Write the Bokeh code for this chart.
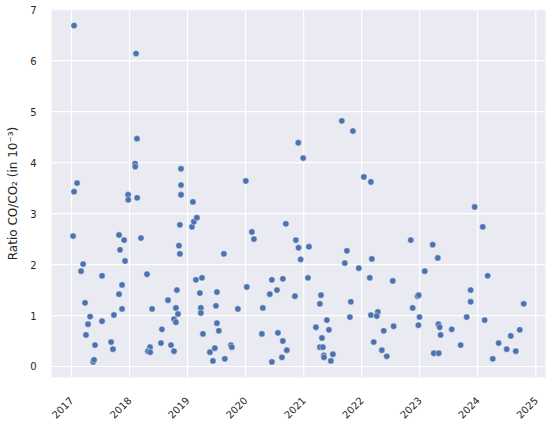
import math
import numpy as np
import pandas as pd
from bokeh.plotting import figure
from bokeh.models import Range1d, FixedTicker, DatetimeTickFormatter, ColumnDataSource
from bokeh.embed import file_html
from bokeh.resources import INLINE

dates = [
    "2017-01-17", "2018-02-11", "2018-02-17", "2018-02-05", "2018-02-06", "2017-02-05", "2017-01-17",
    "2017-12-23", "2017-12-24", "2018-02-18", "2017-01-11", "2017-10-27", "2017-11-28", "2017-11-02",
    "2018-03-14", "2017-12-04", "2017-03-15", "2017-03-02", "2017-07-12", "2018-04-21", "2017-11-15",
    "2017-10-27", "2017-03-27", "2017-11-15", "2018-05-23", "2017-04-28", "2017-04-15", "2017-07-12",
    "2017-09-25", "2017-04-02", "2017-05-29", "2017-09-07", "2017-09-19", "2017-05-17", "2017-05-23",
    "2018-05-10", "2018-04-27", "2018-05-11", "2018-07-24", "2018-07-18", "2018-09-19", "2018-10-08",
    "2018-08-31", "2018-10-08", "2018-10-20", "2018-10-20", "2018-11-02", "2018-10-26",
    "2018-11-21", "2018-11-21", "2018-11-21", "2018-11-14", "2018-11-08", "2018-11-14",
    "2019-02-04", "2019-01-29", "2019-02-10", "2019-03-01", "2019-08-18", "2020-01-03", "2020-02-10",
    "2020-02-23", "2020-09-11", "2020-11-13", "2020-11-30", "2020-12-13", "2020-11-28", "2020-12-29",
    "2019-02-23", "2019-04-02", "2019-03-20", "2019-07-05", "2019-03-26", "2019-03-26", "2019-06-29",
    "2019-11-14", "2020-01-09", "2019-04-08", "2019-07-05", "2019-07-17", "2019-05-22", "2019-06-22",
    "2019-06-10", "2019-08-24", "2019-10-01", "2019-10-07", "2020-06-15", "2020-08-23", "2020-06-02",
    "2020-07-17", "2020-11-07", "2020-04-19", "2020-04-13", "2020-07-23", "2020-08-23", "2020-09-17",
    "2020-08-17", "2020-06-15",
    "2021-08-29", "2021-11-07", "2022-01-15", "2022-02-28", "2021-02-03", "2021-01-28", "2021-09-30",
    "2021-09-17", "2021-12-14", "2022-03-06", "2022-02-21", "2022-07-16", "2022-11-06", "2021-04-20",
    "2021-04-13", "2021-10-25", "2021-10-19", "2022-02-28", "2022-04-13", "2022-04-06", "2021-03-19",
    "2021-05-27", "2021-06-09", "2021-04-26", "2021-04-13", "2021-05-02", "2021-05-08", "2021-05-09",
    "2021-07-04", "2021-06-21", "2022-05-20", "2022-07-21", "2022-03-18", "2022-05-08", "2022-06-08",
    "2022-11-18", "2022-12-19", "2022-12-26", "2022-12-31", "2022-12-24",
    "2023-02-02", "2023-03-24", "2023-04-25", "2023-04-29", "2023-05-07", "2023-05-13", "2023-03-31",
    "2023-05-01", "2023-07-22", "2023-09-16", "2023-10-24", "2023-11-18", "2023-11-18", "2023-12-13",
    "2024-02-02", "2024-03-04", "2024-02-14", "2024-04-05", "2024-05-12", "2024-07-02", "2024-07-27",
    "2024-08-28", "2024-09-22", "2024-10-17",
]
ratio = [
    6.69, 6.14, 4.47, 3.98, 3.92, 3.60, 3.43,
    3.37, 3.27, 3.31, 2.56, 2.58, 2.48, 2.29,
    2.52, 2.07, 2.01, 1.87, 1.78, 1.81, 1.60,
    1.42, 1.25, 1.13, 1.13, 0.98, 0.83, 0.89,
    1.01, 0.62, 0.42, 0.48, 0.34, 0.09, 0.13,
    0.38, 0.30, 0.28, 0.73, 0.46, 0.42, 0.30,
    1.30, 0.93, 0.87, 1.15, 1.03, 1.50,
    3.88, 3.56, 3.37, 2.78, 2.37, 2.21,
    3.23, 2.74, 2.84, 2.92, 2.21, 3.64, 2.64,
    2.50, 2.80, 2.48, 2.33, 2.10, 4.39, 4.09,
    1.70, 1.74, 1.44, 1.46, 1.15, 1.05, 1.19,
    1.13, 1.56, 0.64, 0.85, 0.70, 0.28, 0.36,
    0.11, 0.15, 0.42, 0.38, 1.70, 1.72, 1.42,
    1.50, 1.38, 1.15, 0.64, 0.66, 0.50, 0.32,
    0.18, 0.09,
    4.82, 4.62, 3.72, 3.62, 2.35, 1.74, 2.27,
    2.03, 1.93, 2.11, 1.74, 1.68, 2.48, 1.40,
    1.23, 1.27, 0.97, 1.01, 1.07, 0.99, 0.77,
    0.91, 0.72, 0.56, 0.38, 0.38, 0.22, 0.18,
    0.24, 0.11, 0.70, 0.79, 0.48, 0.32, 0.20,
    1.15, 1.38, 1.40, 0.97, 0.81,
    1.87, 2.39, 2.13, 0.83, 0.77, 0.62, 0.26,
    0.26, 0.73, 0.42, 0.97, 1.50, 1.27, 3.13,
    2.74, 1.78, 0.91, 0.15, 0.46, 0.34, 0.60,
    0.30, 0.72, 1.23,
]
year_ticks = [2017, 2018, 2019, 2020, 2021, 2022, 2023, 2024, 2025]
y_ticks = [0, 1, 2, 3, 4, 5, 6, 7]
x_start, x_end = "2016-08-28", "2025-03-03"
y_start, y_end = -0.216, 7.005

BG_RGB = (234, 234, 242)
BG = "#EAEAF2"
GRID = "#FFFFFF"
DOT = "#4C72B0"
TXT = "#262626"

W, H = 553, 425
BORDER_L, BORDER_R, BORDER_T, BORDER_B = 51, 8, 9, 48
FW, FH = W - BORDER_L - BORDER_R, H - BORDER_T - BORDER_B

src = ColumnDataSource(dict(date=pd.to_datetime(dates), ratio=ratio))
tick_index = pd.to_datetime([f"{y}-01-01" for y in year_ticks])
x_lo, x_hi = pd.Timestamp(x_start), pd.Timestamp(x_end)
span_ms = (x_hi - x_lo).total_seconds() * 1000.0

# raster backdrop for the frame: background colour with the white grid, derived from ticks/ranges
img = np.zeros((FH, FW), dtype=np.uint32)
view = img.view(dtype=np.uint8).reshape((FH, FW, 4))
view[:, :, 0], view[:, :, 1], view[:, :, 2], view[:, :, 3] = BG_RGB[0], BG_RGB[1], BG_RGB[2], 255
for t in tick_index:
    c = int(math.floor((t - x_lo).total_seconds() * 1000.0 / span_ms * FW))
    if 0 <= c < FW:
        view[:, c, :3] = 255
for v in y_ticks:
    r = int(math.floor((v - y_start) / (y_end - y_start) * FH))
    if 0 <= r < FH:
        view[r, :, :3] = 255

img_src = ColumnDataSource(dict(image=[img], x=pd.to_datetime([x_start]), y=[y_start],
                                dw=[span_ms], dh=[y_end - y_start]))
frame_src = ColumnDataSource(dict(left=pd.to_datetime([x_start]), right=pd.to_datetime([x_end]),
                                  bottom=[y_start], top=[y_end]))
vgrid_src = ColumnDataSource(dict(x0=tick_index, x1=tick_index,
                                  y0=[y_start] * len(tick_index), y1=[y_end] * len(tick_index)))
hgrid_src = ColumnDataSource(dict(x0=pd.to_datetime([x_start] * len(y_ticks)),
                                  x1=pd.to_datetime([x_end] * len(y_ticks)),
                                  y0=y_ticks, y1=y_ticks))

p = figure(width=W, height=H, x_axis_type="datetime",
           output_backend="svg", toolbar_location=None,
           x_range=Range1d(x_lo, x_hi), y_range=Range1d(y_start, y_end),
           min_border_left=BORDER_L, min_border_right=BORDER_R,
           min_border_top=BORDER_T, min_border_bottom=BORDER_B,
           background_fill_color="white", border_fill_color="white")
p.outline_line_color = None
p.grid.visible = False

p.image_rgba(image="image", x="x", y="y", dw="dw", dh="dh", source=img_src)
p.quad(left="left", right="right", bottom="bottom", top="top", source=frame_src,
       fill_color=BG, line_color=None)
p.segment(x0="x0", x1="x1", y0="y0", y1="y1", source=vgrid_src, line_color=GRID, line_width=1.2)
p.segment(x0="x0", x1="x1", y0="y0", y1="y1", source=hgrid_src, line_color=GRID, line_width=1.2)

p.scatter("date", "ratio", source=src, size=6.3, fill_color=DOT,
          line_color="white", line_width=0.4)

p.xaxis.ticker = FixedTicker(ticks=[t.value / 1e6 for t in tick_index])
fmt = "%Y"
p.xaxis.formatter = DatetimeTickFormatter(years=fmt, months=fmt, days=fmt, hours=fmt,
                                          minutes=fmt, hourmin=fmt, seconds=fmt)
p.yaxis.ticker = FixedTicker(ticks=y_ticks)

for ax in (p.xaxis[0], p.yaxis[0]):
    ax.axis_line_color = None
    ax.major_tick_line_color = None
    ax.minor_tick_line_color = None
    ax.major_tick_out = 0
    ax.major_tick_in = 0
    ax.minor_tick_out = 0
    ax.minor_tick_in = 0
    ax.major_label_text_font = "DejaVu Sans"
    ax.major_label_text_font_size = "10px"
    ax.major_label_text_color = TXT
p.yaxis.major_label_standoff = 15
p.xaxis.major_label_standoff = 21
p.xaxis.major_label_orientation = math.pi / 4
p.yaxis.axis_label = "Ratio CO/CO₂ (in 10⁻³)"
p.yaxis.axis_label_text_font = "DejaVu Sans"
p.yaxis.axis_label_text_font_size = "12px"
p.yaxis.axis_label_text_font_style = "normal"
p.yaxis.axis_label_text_color = TXT
p.yaxis.axis_label_standoff = 7

open("out.html", "w").write(file_html(p, INLINE))
